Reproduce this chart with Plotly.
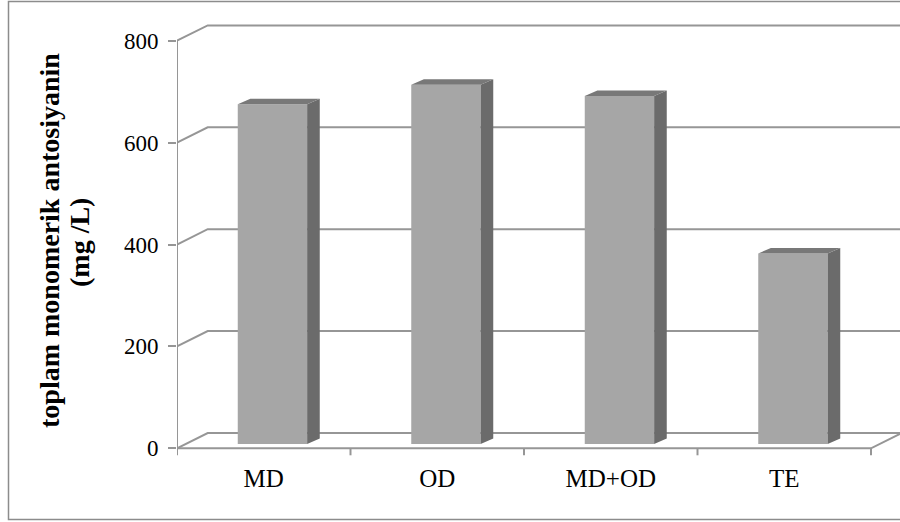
import plotly.graph_objects as go

# --- data -------------------------------------------------------------
categories = ["MD", "OD", "MD+OD", "TE"]
values = [667, 705, 683, 374]          # toplam monomerik antosiyanin, mg/L
y_ticks = [0, 200, 400, 600, 800]

# --- page / projection settings --------------------------------------
W, H = 900, 522
ML, MR, MT, MB = 177, 0, 20, 61
PX_PER_CAT = 173.5          # pixels per category step
PX_PER_UNIT = 0.5095        # pixels per mg/L
ZERO_PX = 448.3             # pixel row of value 0 on the front plane

plot_w = W - ML - MR
plot_h = H - MT - MB
x_min = -0.5
x_max = x_min + plot_w / PX_PER_CAT
y_min = -(H - MB - ZERO_PX) / PX_PER_UNIT
y_max = (ZERO_PX - MT) / PX_PER_UNIT

def dx(px):
    return px / PX_PER_CAT

def dy(px):
    return px / PX_PER_UNIT

# depth of the walls and of the columns (oblique projection)
WALL_DX, WALL_DY = dx(30.7), dy(15.3)
BAR_SHIFT_X, BAR_BASE = dx(8.7), dy(4.3)
BAR_W = 0.4
BAR_DX, BAR_DY = dx(12.6), dy(5.5)

GRID = "#969696"
FRONT = "#a6a6a6"
SIDE = "#6b6b6b"
TOP = "#787878"
FONT = "Times New Roman, Liberation Serif, serif"

fig = go.Figure()

# front faces of the columns
xs = [i + BAR_SHIFT_X for i in range(len(categories))]
fig.add_trace(go.Bar(
    x=xs, y=values, base=BAR_BASE, width=BAR_W,
    marker=dict(color=FRONT, line=dict(width=0)),
    hoverinfo="skip",
))

# side and top faces
side_x, side_y, top_x, top_y = [], [], [], []
for xc, v in zip(xs, values):
    xl, xr = xc - BAR_W / 2, xc + BAR_W / 2
    b, t = BAR_BASE, BAR_BASE + v
    side_x += [xr, xr + BAR_DX, xr + BAR_DX, xr, xr, None]
    side_y += [b, b + BAR_DY, t + BAR_DY, t, b, None]
    top_x += [xl, xr, xr + BAR_DX, xl + BAR_DX, xl, None]
    top_y += [t, t, t + BAR_DY, t + BAR_DY, t, None]

fig.add_trace(go.Scatter(x=side_x, y=side_y, mode="lines", fill="toself",
                         fillcolor=SIDE, line=dict(width=0), hoverinfo="skip"))
fig.add_trace(go.Scatter(x=top_x, y=top_y, mode="lines", fill="toself",
                         fillcolor=TOP, line=dict(width=0), hoverinfo="skip"))

# walls, floor and axis lines (behind the columns)
shapes = []
line_style = dict(color=GRID, width=2)
for v in y_ticks:
    path = (f"M {x_min},{v} L {x_min + WALL_DX},{v + WALL_DY} "
            f"L {x_max + 0.5},{v + WALL_DY}")
    shapes.append(dict(type="path", path=path, xref="x", yref="y",
                       line=line_style, layer="below"))
n = len(categories)
x_end = x_min + n
shapes.append(dict(type="path",
                   path=f"M {x_min},0 L {x_end},0 L {x_end + WALL_DX},{WALL_DY}",
                   xref="x", yref="y", line=line_style, layer="below"))
shapes.append(dict(type="line", x0=x_min, x1=x_min, y0=0, y1=y_ticks[-1],
                   xref="x", yref="y", line=line_style, layer="below"))
for k in range(n + 1):
    xb = x_min + k
    shapes.append(dict(type="line", x0=xb, x1=xb, y0=0, y1=-dy(7),
                       xref="x", yref="y", line=line_style, layer="below"))

# chart frame
def px_x(p):
    return (p - ML) / plot_w

def px_y(p):
    return (H - MB - p) / plot_h

shapes.append(dict(type="rect", xref="paper", yref="paper",
                   x0=px_x(8.5), x1=px_x(912), y0=px_y(519.5), y1=px_y(1.5),
                   line=dict(color="#8c8c8c", width=1.5), layer="below"))

# axis title, two rotated lines
annotations = [
    dict(text="<b>toplam monomerik antosiyanin</b>", textangle=-90,
         x=px_x(50), y=px_y(241), xref="paper", yref="paper",
         xanchor="center", yanchor="middle", showarrow=False,
         font=dict(family=FONT, size=28, color="black")),
    dict(text="<b>(mg /L)</b>", textangle=-90,
         x=px_x(79), y=px_y(243), xref="paper", yref="paper",
         xanchor="center", yanchor="middle", showarrow=False,
         font=dict(family=FONT, size=28, color="black")),
]

fig.update_layout(
    width=W, height=H,
    margin=dict(l=ML, r=MR, t=MT, b=MB, pad=0),
    paper_bgcolor="white", plot_bgcolor="white",
    showlegend=False,
    shapes=shapes, annotations=annotations,
    xaxis=dict(range=[x_min, x_max], tickmode="array",
               tickvals=list(range(n)), ticktext=categories,
               ticks="", showgrid=False, zeroline=False, showline=False,
               tickfont=dict(family=FONT, size=25, color="black")),
    yaxis=dict(range=[y_min, y_max], tickmode="array",
               tickvals=y_ticks, ticktext=[str(t) for t in y_ticks],
               ticks="outside", ticklen=8, tickwidth=2, tickcolor=GRID,
               showgrid=False, zeroline=False, showline=False,
               ticklabelstandoff=5,
               tickfont=dict(family=FONT, size=23, color="black")),
)

fig.write_html("out.html")
